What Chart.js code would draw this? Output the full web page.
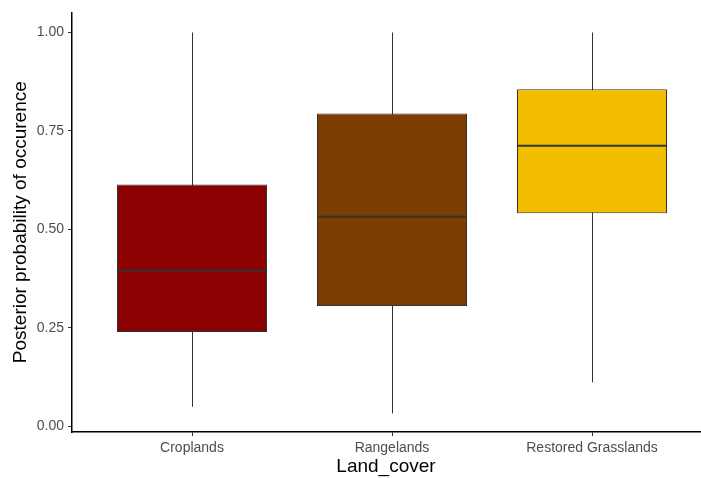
<!DOCTYPE html>
<html>
<head>
<meta charset="utf-8">
<script src="https://cdn.jsdelivr.net/npm/chart.js@4/dist/chart.umd.min.js"></script>
<style>
    html, body {margin: 0; padding: 0; background: #fff;}
    #wrap {width: 701px; height: 478px;}
</style>
</head>
<body>
<div id="wrap"><canvas id="chart"></canvas></div>
<script>
const categories = ["Croplands", "Rangelands", "Restored Grasslands"]
const lowerWhisker = [0.049, 0.032, 0.111]
const q1 = [0.239, 0.305, 0.541]
const median = [0.395, 0.532, 0.712]
const q3 = [0.614, 0.794, 0.856]
const upperWhisker = [1.0, 1.0, 1.0]
const yTicks = [0, 0.25, 0.5, 0.75, 1]
const fills = ["#8B0000", "#7B3D00", "#F4BE00"]

const family = "Liberation Sans, Arial, sans-serif"

// whiskers go under the boxes, medians on top of them
const boxLines = {
    id: "boxLines",
    beforeDatasetsDraw(chart) {
        const {ctx, scales: {x, y}} = chart
        ctx.save()
        ctx.strokeStyle = "#333"
        ctx.lineWidth = 1
        categories.forEach((c, i) => {
            const px = Math.round(x.getPixelForValue(i + 1)) + 0.5
            ctx.beginPath()
            ctx.moveTo(px, y.getPixelForValue(upperWhisker[i]))
            ctx.lineTo(px, y.getPixelForValue(lowerWhisker[i]))
            ctx.stroke()
        })
        ctx.restore()
    },
    afterDatasetsDraw(chart) {
        const {ctx, scales: {y}} = chart
        const meta = chart.getDatasetMeta(0)
        ctx.save()
        ctx.strokeStyle = "#333"
        ctx.lineWidth = 2
        meta.data.forEach((bar, i) => {
            const py = y.getPixelForValue(median[i])
            ctx.beginPath()
            ctx.moveTo(bar.x - bar.width / 2, py)
            ctx.lineTo(bar.x + bar.width / 2, py)
            ctx.stroke()
        })
        ctx.restore()
    }
}

const data = {
    datasets: [
        {
            label: "box",
            data: categories.map((c, i) => ({x: i + 1, y: [q1[i], q3[i]]})),
            backgroundColor: fills,
            borderColor: "#333",
            borderWidth: 1,
            borderSkipped: false,
            categoryPercentage: 0.75,
            barPercentage: 1
        }
    ]
}

const options = {
    responsive: true,
    maintainAspectRatio: false,
    animation: {duration: 0},
    layout: {padding: {top: 12, right: 1, left: 0, bottom: 0}},
    plugins: {
        legend: {display: false},
        tooltip: {enabled: false}
    },
    scales: {
        x: {
            type: "linear",
            offset: false,
            min: 0.4,
            max: 3.54,
            afterBuildTicks: scale => {
                scale.ticks = categories.map((c, i) => ({value: i + 1}))
            },
            afterFit: scale => { scale.height = 46 },
            ticks: {
                callback: v => categories[v - 1],
                color: "#4D4D4D",
                font: {family, size: 14},
                padding: 4,
                maxRotation: 0
            },
            grid: {offset: false, drawOnChartArea: false, tickLength: 4, tickColor: "#333"},
            border: {display: true, color: "#000", width: 1.5},
            title: {
                display: true,
                text: "Land_cover",
                color: "#000",
                font: {family, size: 19},
                padding: {top: 0, bottom: 0}
            }
        },
        y: {
            min: -0.015,
            max: 1.051,
            afterBuildTicks: scale => {
                scale.ticks = yTicks.map(v => ({value: v}))
            },
            afterFit: scale => { scale.width = 72 },
            ticks: {
                callback: v => v.toFixed(2),
                color: "#4D4D4D",
                font: {family, size: 14},
                padding: 4
            },
            grid: {drawOnChartArea: false, tickLength: 4, tickColor: "#333"},
            border: {display: true, color: "#000", width: 1.5},
            title: {
                display: true,
                text: "Posterior probability of occurence",
                color: "#000",
                font: {family, size: 19},
                padding: {top: 9, bottom: 0}
            }
        }
    }
}

new Chart(document.getElementById("chart"), {type: "bar", data, options, plugins: [boxLines]})
</script>
</body>
</html>
